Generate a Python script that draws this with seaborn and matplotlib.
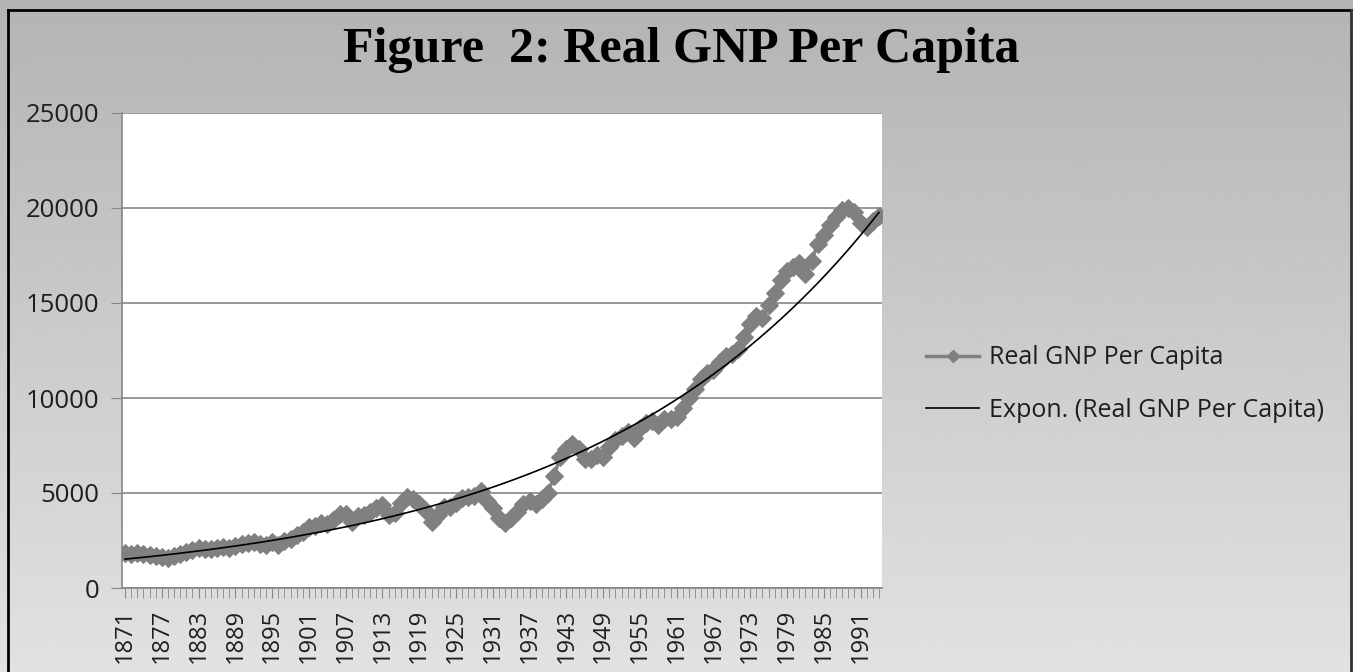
import numpy as np
import pandas as pd
import matplotlib
matplotlib.use("Agg")
import matplotlib.pyplot as plt
from matplotlib.lines import Line2D
import seaborn as sns

# annual real GNP per capita
years = list(range(1871, 1995))
gnp = [
    1850, 1800, 1850, 1800, 1750, 1700, 1650, 1600, 1700, 1800,
    1900, 2000, 2100, 2050, 2050, 2100, 2150, 2100, 2200, 2300,
    2350, 2400, 2300, 2250, 2400, 2250, 2450, 2600, 2800, 2950,
    3200, 3250, 3400, 3350, 3600, 3900, 3900, 3450, 3800, 3850,
    4000, 4200, 4350, 3850, 3950, 4500, 4800, 4700, 4400, 4100,
    3500, 3850, 4250, 4250, 4500, 4750, 4800, 4850, 5100, 4600,
    4200, 3700, 3400, 3700, 4000, 4400, 4600, 4400, 4700, 5000,
    5900, 6900, 7300, 7600, 7300, 6800, 6800, 7000, 6900, 7400,
    7800, 8000, 8200, 7900, 8400, 8700, 8800, 8600, 8900, 8900,
    9000, 9500, 10000, 10500, 11000, 11300, 11500, 11900, 12200, 12300,
    12600, 13200, 13900, 14300, 14200, 14900, 15500, 16200, 16700, 16900,
    17100, 16500, 17200, 18100, 18600, 19100, 19500, 19900, 20000, 19800,
    19200, 19000, 19300, 19600,
]
label_years = list(range(1871, 1995, 6))
y_ticks = [0, 5000, 10000, 15000, 20000, 25000]

df = pd.DataFrame({"year": years, "gnp": gnp})

# exponential trendline like Excel's "Expon." fit
coef = np.polyfit(df["year"], np.log(df["gnp"]), 1)
df["trend"] = np.exp(np.polyval(coef, df["year"]))

W, H = 1353, 672
fig = plt.figure(figsize=(W / 100, H / 100), dpi=100)

# gray gradient background
bg = fig.add_axes([0, 0, 1, 1], zorder=-10)
grad = np.linspace(0.705, 0.885, 256).reshape(-1, 1)
bg.imshow(grad, aspect="auto", cmap="gray", vmin=0, vmax=1, extent=[0, 1, 0, 1], origin="upper")
bg.set_xlim(0, 1)
bg.set_ylim(0, 1)
bg.axis("off")

# outer frame (top, left, right)
fx = lambda px: px / W
fy = lambda py: 1 - py / H
fig.add_artist(Line2D([fx(8), fx(8)], [0, fy(10)], color="black", lw=2))
fig.add_artist(Line2D([fx(8), fx(1351)], [fy(10), fy(10)], color="black", lw=2))
fig.add_artist(Line2D([fx(1351), fx(1351)], [0, fy(10)], color="#333333", lw=2))

ax = fig.add_axes([fx(122), fy(588), fx(882) - fx(122), fy(113) - fy(588)])
ax.set_facecolor("white")

sns.lineplot(data=df, x="year", y="gnp", ax=ax, color="#808080", lw=2.5,
             marker="D", markersize=9.5, markeredgecolor="#808080",
             markerfacecolor="#808080", zorder=3)
sns.lineplot(data=df, x="year", y="trend", ax=ax, color="black", lw=1.2, zorder=4)

ax.set_xlim(1870.5, 1994.5)
ax.set_ylim(0, 25000)
ax.set_yticks(y_ticks)
ax.set_yticklabels([str(v) for v in y_ticks])
ax.set_xticks(label_years)
ax.set_xticklabels([str(y) for y in label_years], rotation=90)
ax.set_xticks(years, minor=True)
ax.set_xlabel("")
ax.set_ylabel("")

ax.grid(axis="y", color="#868686", lw=1.2)
ax.set_axisbelow(True)
for side in ["top", "right"]:
    ax.spines[side].set_visible(False)
for side in ["left", "bottom"]:
    ax.spines[side].set_color("#868686")
    ax.spines[side].set_linewidth(1.2)

tick_font = "Open Sans"
ax.tick_params(axis="y", length=8, color="#868686", labelsize=18.5,
               labelcolor="#1e1e1e", pad=8)
ax.tick_params(axis="x", which="both", length=7, color="#868686",
               labelsize=17, labelcolor="#1e1e1e", pad=8)
for lab in ax.get_xticklabels() + ax.get_yticklabels():
    lab.set_family(tick_font)

handles = [
    Line2D([], [], color="#808080", lw=2.5, marker="D", markersize=6),
    Line2D([], [], color="black", lw=1.2),
]
fig.legend(handles, ["Real GNP Per Capita", "Expon. (Real GNP Per Capita)"],
           loc="center left", bbox_to_anchor=(fx(904), fy(384)), frameon=False,
           prop={"family": tick_font, "size": 18}, labelcolor="#1e1e1e",
           handlelength=2.1, handletextpad=0.4, labelspacing=1.1)

fig.text(fx(681), fy(50), "Figure  2: Real GNP Per Capita", ha="center", va="center",
         family="Liberation Serif", weight="bold", size=36, color="black")

fig.savefig("out.png", dpi=100)
